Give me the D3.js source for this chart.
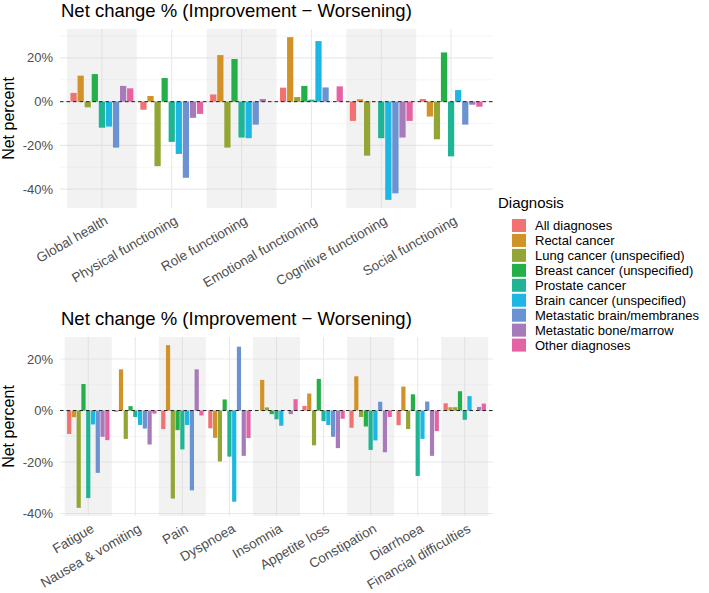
<!DOCTYPE html>
<html>
<head>
<meta charset="utf-8">
<script src="https://cdn.jsdelivr.net/npm/d3@7"></script>
<style>
  body { margin: 0; background: #fff; }
  text { font-family: "Liberation Sans", Arial, sans-serif; }
</style>
</head>
<body>
<svg id="chart" width="709" height="593"></svg>
<script>
// Diagnosis groups (fill legend order)
const diagnoses = [
  "All diagnoses",
  "Rectal cancer",
  "Lung cancer (unspecified)",
  "Breast cancer (unspecified)",
  "Prostate cancer",
  "Brain cancer (unspecified)",
  "Metastatic brain/membranes",
  "Metastatic bone/marrow",
  "Other diagnoses",
];
const diagnosisColors = [
  "#f27272", "#d19327", "#93a534", "#25af49", "#1eb494",
  "#1cb7e3", "#6b92d1", "#a77ab9", "#e563a2",
];

// Functioning scales, net % per diagnosis (same order as above)
const functionScales = [
  "Global health", "Physical functioning", "Role functioning",
  "Emotional functioning", "Cognitive functioning", "Social functioning",
];
const functionValues = [
  [4.0, 11.9, -2.6, 12.6, -11.9, -11.4, -21.0, 7.2, 6.1],
  [-3.7, 2.6, -29.5, 10.8, -18.4, -23.9, -34.8, -7.4, -5.6],
  [3.3, 21.3, -21.0, 19.5, -16.4, -16.7, -10.5, 1.2, 0],
  [6.4, 29.5, 2.1, 7.2, 0.9, 27.7, 6.5, 0, 7.0],
  [-8.8, 1.1, -24.7, 0, -16.7, -44.9, -41.9, -16.4, -8.8],
  [1.2, -6.8, -17.2, 22.5, -25.0, 5.3, -10.5, -1.4, -2.3],
];

// Symptom scales
const symptomScales = [
  "Fatigue", "Nausea & vomiting", "Pain", "Dyspnoea", "Insomnia",
  "Appetite loss", "Constipation", "Diarrhoea", "Financial difficulties",
];
const symptomValues = [
  [-9.1, -2.6, -37.8, 10.3, -34.0, -5.4, -24.2, -10.2, -11.5],
  [-0.5, 16.0, -11.0, 1.7, -2.5, -5.6, -7.0, -13.2, -1.2],
  [-7.2, 25.4, -34.2, -7.6, -15.1, -5.6, -31.0, 16.0, -1.9],
  [-6.9, -10.6, -19.8, 4.3, -17.9, -35.4, 24.8, -17.6, -10.7],
  [0, 11.9, 1.2, -1.4, -3.4, -5.9, 0, -1.4, 4.4],
  [1.8, 6.6, -13.5, 12.3, -4.1, -5.6, -10.2, -14.6, -3.2],
  [-6.7, 13.3, -2.5, -6.2, -15.3, -11.6, 3.4, -16.2, -2.5],
  [-5.7, 9.3, -7.2, 6.3, -25.4, -11.0, 3.5, -17.6, -8.0],
  [2.8, 1.3, 1.3, 7.5, -3.6, 5.6, 0, 1.4, 2.7],
];

// Y axis ticks (%)
const yTicks = [-40, -20, 0, 20];
const yMinorTicks = [-30, -10, 10, 30];

const titleText = "Net change % (Improvement \u2212 Worsening)";

const svg = d3.select("#chart");
const color = d3.scaleOrdinal().domain(diagnoses).range(diagnosisColors);

function panel(g, categories, values, box) {
  const { left, right, top, bottom } = box;

  const x = d3.scalePoint().domain(categories).range([left, right]).padding(0.6);
  const unit = x.step();

  // ggplot-like 5% expansion of the data range
  const flat = values.flat();
  const lo = d3.min(flat), hi = d3.max(flat);
  const pad = (hi - lo) * 0.05;
  const y = d3.scaleLinear().domain([lo - pad, hi + pad]).range([bottom, top]);
  const inside = (v) => v >= y.domain()[0] && v <= y.domain()[1];

  const major = yTicks.filter(inside);
  const minor = yMinorTicks.filter(inside);

  // Grid
  g.append("g").selectAll("line").data(minor).join("line")
    .attr("x1", left).attr("x2", right)
    .attr("y1", (d) => y(d)).attr("y2", (d) => y(d))
    .attr("stroke", "#f1f1f1").attr("stroke-width", 0.7);
  g.append("g").selectAll("line").data(major).join("line")
    .attr("x1", left).attr("x2", right)
    .attr("y1", (d) => y(d)).attr("y2", (d) => y(d))
    .attr("stroke", "#e9e9e9").attr("stroke-width", 1.1);
  g.append("g").selectAll("line").data(categories).join("line")
    .attr("x1", (d) => x(d)).attr("x2", (d) => x(d))
    .attr("y1", top).attr("y2", bottom)
    .attr("stroke", "#e9e9e9").attr("stroke-width", 1.1);

  // Alternate shaded bands
  g.append("g").selectAll("rect")
    .data(categories.filter((d, i) => i % 2 === 0))
    .join("rect")
    .attr("x", (d) => x(d) - unit / 2)
    .attr("width", unit)
    .attr("y", top)
    .attr("height", bottom - top)
    .attr("fill", "#d4d4d4")
    .attr("fill-opacity", 0.3);

  // Dodged bars
  const inner = d3.scaleBand().domain(diagnoses)
    .range([-0.45 * unit, 0.45 * unit]).paddingInner(0.12);
  const rows = categories.flatMap((c, i) =>
    diagnoses.map((d, j) => ({ cat: c, diag: d, value: values[i][j] }))
  );
  g.append("g").selectAll("rect").data(rows).join("rect")
    .attr("x", (d) => x(d.cat) + inner(d.diag))
    .attr("width", inner.bandwidth())
    .attr("y", (d) => y(Math.max(0, d.value)))
    .attr("height", (d) => Math.abs(y(d.value) - y(0)))
    .attr("fill", (d) => color(d.diag));

  // Zero line
  g.append("line")
    .attr("x1", left).attr("x2", right)
    .attr("y1", y(0)).attr("y2", y(0))
    .attr("stroke", "#222").attr("stroke-width", 1)
    .attr("stroke-dasharray", "3.5,3");

  // Y tick labels
  g.append("g").selectAll("text").data(major).join("text")
    .attr("x", left - 7)
    .attr("y", (d) => y(d))
    .attr("dy", "0.35em")
    .attr("text-anchor", "end")
    .attr("font-size", 13)
    .attr("fill", "#4d4d4d")
    .text((d) => d + "%");

  // X tick labels, rotated
  g.append("g").selectAll("text").data(categories).join("text")
    .attr("transform", (d) => `translate(${x(d) + 2},${bottom + 7}) rotate(-30)`)
    .attr("dy", "0.71em")
    .attr("text-anchor", "end")
    .attr("font-size", 13.5)
    .attr("fill", "#4d4d4d")
    .text((d) => d);

  // Axis title
  g.append("text")
    .attr("transform", `translate(14,${(top + bottom) / 2}) rotate(-90)`)
    .attr("text-anchor", "middle")
    .attr("font-size", 16)
    .attr("fill", "#000")
    .text("Net percent");

  // Panel title
  g.append("text")
    .attr("x", left + 1)
    .attr("y", top - 12)
    .attr("font-size", 18.5)
    .attr("fill", "#000")
    .text(titleText);
}

panel(svg.append("g"), functionScales, functionValues,
  { left: 60, right: 493, top: 29, bottom: 208 });
panel(svg.append("g"), symptomScales, symptomValues,
  { left: 60, right: 493, top: 337, bottom: 516 });

// Legend
const legend = svg.append("g").attr("transform", "translate(498,0)");
legend.append("text")
  .attr("x", 0).attr("y", 208)
  .attr("font-size", 15)
  .text("Diagnosis");
const item = legend.selectAll("g.item").data(diagnoses).join("g")
  .attr("class", "item")
  .attr("transform", (d, i) => `translate(0,${219 + i * 14.95})`);
item.append("rect")
  .attr("x", 14).attr("y", 0)
  .attr("width", 14).attr("height", 13)
  .attr("fill", (d) => color(d));
item.append("text")
  .attr("x", 37).attr("y", 6.5)
  .attr("dy", "0.35em")
  .attr("font-size", 13)
  .attr("fill", "#000")
  .text((d) => d);
</script>
</body>
</html>
